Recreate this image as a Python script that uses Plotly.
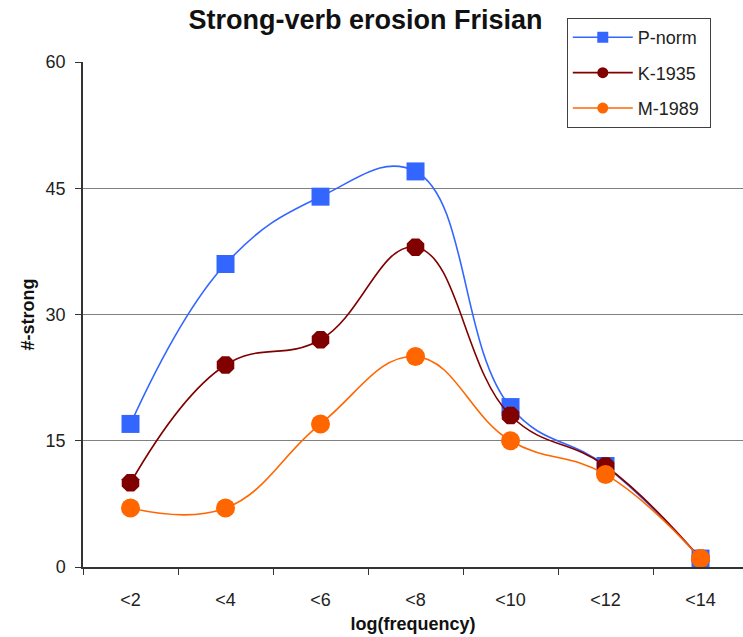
import plotly.graph_objects as go

# Frequency bins and counts of strong verbs per source
categories = ["<2", "<4", "<6", "<8", "<10", "<12", "<14"]
p_norm = [17, 36, 44, 47, 19, 12, 1]
k_1935 = [10, 24, 27, 38, 18, 12, 1]
m_1989 = [7, 7, 17, 25, 15, 11, 1]
y_ticks = [0, 15, 30, 45, 60]

FONT = "Arial, Liberation Sans, sans-serif"

series = [
    ("P-norm", p_norm, "#3366FF", "square", 18),
    ("K-1935", k_1935, "#800000", "octagon", 19),
    ("M-1989", m_1989, "#FF6600", "circle", 19),
]

fig = go.Figure()
for i, (name, vals, color, symbol, size) in enumerate(series):
    fig.add_trace(go.Scatter(
        x=categories, y=vals, name=name, mode="lines+markers",
        line=dict(color=color, width=1.6, shape="spline", smoothing=1.2),
        marker=dict(color=color, symbol=symbol, size=size, line=dict(width=0)),
        showlegend=False, cliponaxis=False,
    ))
    # legend entry with a smaller key marker
    fig.add_trace(go.Scatter(
        x=[None], y=[None], name=name + "\u00a0", mode="lines+markers",
        line=dict(color=color, width=1.6),
        marker=dict(color=color, symbol="square" if symbol == "square" else "circle",
                    size=11, line=dict(width=0)),
        legendgroup=f"g{i}", showlegend=True,
    ))

fig.update_layout(
    width=743, height=637,
    margin=dict(l=83, r=0, t=62, b=70),
    paper_bgcolor="white", plot_bgcolor="white",
    font=dict(family=FONT, size=18, color="#222222"),
    title=dict(text="<b>Strong-verb erosion Frisian</b>", x=365.5 / 743, xanchor="center",
               y=1 - 20 / 637, yanchor="middle",
               font=dict(family=FONT, size=27, color="#111111")),
    showlegend=True,
    legend=dict(x=0.733, y=1.087, xanchor="left", yanchor="top",
                bgcolor="white", bordercolor="#404040", borderwidth=1,
                font=dict(family=FONT, size=18, color="#222222"),
                tracegroupgap=9, itemwidth=60),
)

fig.update_xaxes(
    type="category", range=[-0.5, 6.447],
    tickson="boundaries", ticks="outside", ticklen=6, tickcolor="#333333",
    ticklabelstandoff=16,
    showline=True, linecolor="#333333", linewidth=1.5,
    showgrid=False, zeroline=False,
    tickfont=dict(family=FONT, size=18, color="#222222"),
    title=dict(text="<b>log(frequency)</b>", standoff=8,
               font=dict(family=FONT, size=18, color="#111111")),
)
fig.update_yaxes(
    range=[0, 60], tickvals=y_ticks,
    ticks="outside", ticklen=6, tickcolor="#333333",
    ticklabelstandoff=6,
    showline=True, linecolor="#333333", linewidth=1.5,
    showgrid=True, gridcolor="#808080", gridwidth=1.2,
    zeroline=False,
    tickfont=dict(family=FONT, size=18, color="#222222"),
    title=dict(text="<b>#-strong</b>", standoff=6,
               font=dict(family=FONT, size=18, color="#111111")),
)

fig.write_html("out.html")
